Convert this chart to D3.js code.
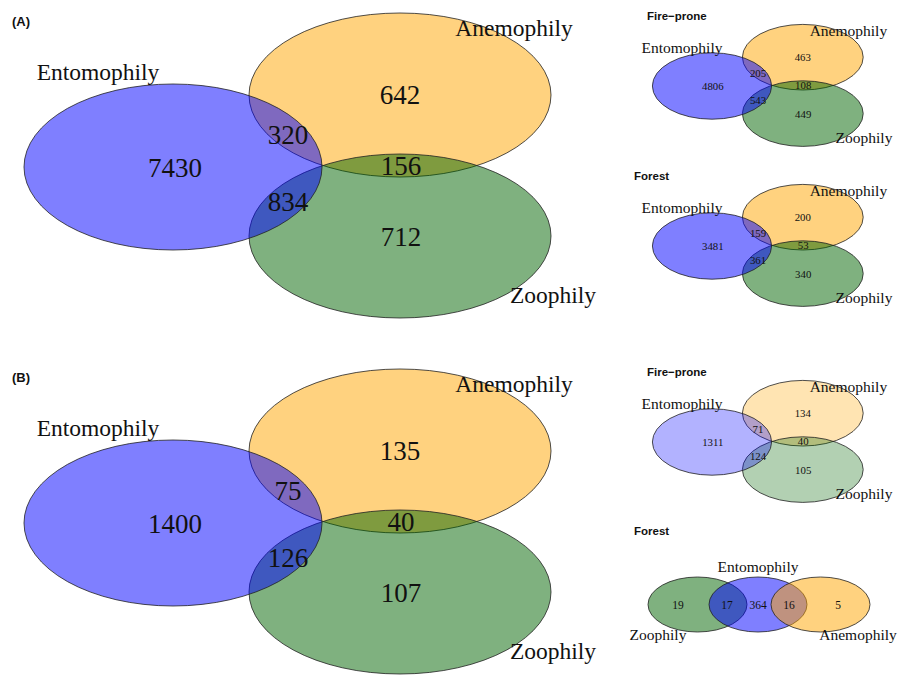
<!DOCTYPE html>
<html>
<head>
<meta charset="utf-8">
<script src="https://cdn.jsdelivr.net/npm/d3@7"></script>
<style>
  html, body { margin: 0; padding: 0; background: #fff; }
  svg { display: block; }
</style>
</head>
<body>
<svg id="chart" width="898" height="675"></svg>
<script>
// Pollination syndromes: species counts per Venn region
const setNames = ["Entomophily", "Anemophily", "Zoophily"];
// Region order for the three-set diagrams: E, A, Z, E∩A, E∩Z, A∩Z
const regionKeys = ["E", "A", "Z", "EA", "EZ", "AZ"];

const countsA_all      = [7430, 642, 712, 320, 834, 156];
const countsA_fire     = [4806, 463, 449, 205, 543, 108];
const countsA_forest   = [3481, 200, 340, 159, 361, 53];
const countsB_all      = [1400, 135, 107, 75, 126, 40];
const countsB_fire     = [1311, 134, 105, 71, 124, 40];
// Linear (chain) diagram: Z, Z∩E, E, E∩A, A
const chainKeys        = ["Z", "ZE", "E", "EA", "A"];
const countsB_forest   = [19, 17, 364, 16, 5];

const panelTitles = ["(A)", "(B)"];
const habitatTitles = ["Fire\u2212prone", "Forest"];

// Fill colours for the sets (drawn semi-transparent)
const setColor = { E: "#0000ff", A: "#ffa500", Z: "#006400" };

// Geometry of the three-set layout, in layout units (Entomophily centre at 0,0)
const layout3 = {
  ellipses: {
    E: { cx: 0,   cy: 0,   rx: 149, ry: 83 },
    A: { cx: 227, cy: -72, rx: 151, ry: 82 },
    Z: { cx: 227, cy: 69,  rx: 151, ry: 82 }
  },
  order: ["A", "Z", "E"],
  regions: {
    E: [2, 1], A: [227, -72], Z: [228, 70],
    EA: [115, -32], EZ: [115, 35], AZ: [228, -1]
  },
  labels: { E: [-75, -95], A: [341, -139], Z: [380, 128] }
};

// Geometry of the chain layout (Entomophily in the middle)
const layoutChain = {
  ellipses: {
    Z: { cx: -60.5, cy: 0, rx: 49.5, ry: 27.5 },
    E: { cx: 0,     cy: 0, rx: 49,   ry: 27.5 },
    A: { cx: 62.5,  cy: 0, rx: 49.5, ry: 27.5 }
  },
  order: ["Z", "E", "A"],
  regions: { Z: [-80, 0], ZE: [-31, 0], E: [0, 0], EA: [31, 0], A: [80, 0] },
  labels: { E: [0, -37.5], Z: [-100, 30.5], A: [100, 30.5] }
};

const svg = d3.select("#chart");
const nameOf = { E: setNames[0], A: setNames[1], Z: setNames[2] };

function drawVenn(opt) {
  const { layout, keys, counts, ox, oy, k, labelSize, numSize, alpha } = opt;
  // layout units -> page pixels
  const x = d3.scaleLinear().domain([0, 1]).range([ox, ox + k]);
  const y = d3.scaleLinear().domain([0, 1]).range([oy, oy + k]);
  const g = svg.append("g");

  layout.order.forEach(s => {
    const e = layout.ellipses[s];
    g.append("ellipse")
      .attr("cx", x(e.cx)).attr("cy", y(e.cy))
      .attr("rx", e.rx * k).attr("ry", e.ry * k)
      .attr("fill", setColor[s])
      .attr("fill-opacity", alpha)
      .attr("stroke", "#222")
      .attr("stroke-width", 0.8);
  });

  keys.forEach((key, i) => {
    const p = layout.regions[key];
    g.append("text")
      .attr("x", x(p[0])).attr("y", y(p[1]))
      .attr("dy", "0.35em")
      .attr("text-anchor", "middle")
      .attr("font-family", "'Liberation Serif', 'Times New Roman', serif")
      .attr("font-size", numSize)
      .attr("fill", "#111")
      .text(counts[i]);
  });

  Object.keys(layout.labels).forEach(s => {
    const p = layout.labels[s];
    g.append("text")
      .attr("x", x(p[0])).attr("y", y(p[1]))
      .attr("dy", "0.35em")
      .attr("text-anchor", "middle")
      .attr("font-family", "'Liberation Serif', 'Times New Roman', serif")
      .attr("font-size", labelSize)
      .attr("fill", "#111")
      .text(nameOf[s]);
  });
}

function title(txt, px, py, size) {
  svg.append("text")
    .attr("x", px).attr("y", py)
    .attr("font-family", "'Liberation Sans', Arial, sans-serif")
    .attr("font-weight", "bold")
    .attr("font-size", size)
    .attr("fill", "#111")
    .text(txt);
}

// Row A
title(panelTitles[0], 12, 26, 13);
drawVenn({ layout: layout3, keys: regionKeys, counts: countsA_all,
           ox: 173, oy: 167, k: 1, labelSize: 23.5, numSize: 27, alpha: 0.5 });
title(habitatTitles[0], 647, 20, 11.5);
drawVenn({ layout: layout3, keys: regionKeys, counts: countsA_fire,
           ox: 712, oy: 86, k: 0.4, labelSize: 15.5, numSize: 10.8, alpha: 0.5 });
title(habitatTitles[1], 634, 180, 11.5);
drawVenn({ layout: layout3, keys: regionKeys, counts: countsA_forest,
           ox: 712, oy: 246, k: 0.4, labelSize: 15.5, numSize: 10.8, alpha: 0.5 });

// Row B
title(panelTitles[1], 12, 382, 13);
drawVenn({ layout: layout3, keys: regionKeys, counts: countsB_all,
           ox: 173, oy: 523, k: 1, labelSize: 23.5, numSize: 27, alpha: 0.5 });
title(habitatTitles[0], 647, 376, 11.5);
drawVenn({ layout: layout3, keys: regionKeys, counts: countsB_fire,
           ox: 712, oy: 442, k: 0.4, labelSize: 15.5, numSize: 10.8, alpha: 0.3 });
title(habitatTitles[1], 634, 535, 11.5);
drawVenn({ layout: layoutChain, keys: chainKeys, counts: countsB_forest,
           ox: 758, oy: 604.5, k: 1, labelSize: 15.5, numSize: 11.5, alpha: 0.5 });
</script>
</body>
</html>
